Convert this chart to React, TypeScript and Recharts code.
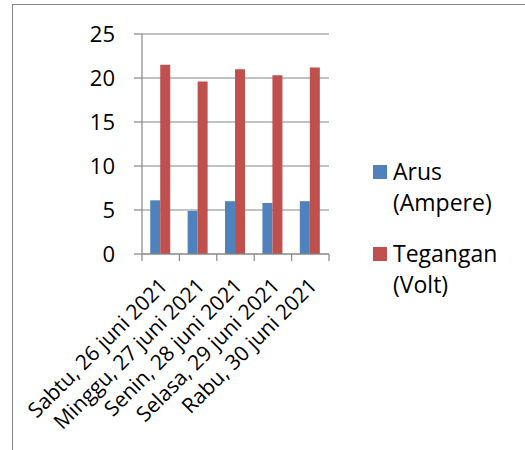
import React from "react";
import { BarChart, Bar, XAxis, YAxis, CartesianGrid, Legend } from "recharts";

const days = [
  "Sabtu, 26 juni 2021",
  "Minggu, 27 juni 2021",
  "Senin, 28 juni 2021",
  "Selasa, 29 juni 2021",
  "Rabu, 30 juni 2021",
];
const arus = [6.1, 4.9, 6.0, 5.8, 6.0];
const tegangan = [21.5, 19.6, 21.0, 20.3, 21.2];
const yTicks = [0, 5, 10, 15, 20, 25];
const seriesNames = ["Arus (Ampere)", "Tegangan (Volt)"];
const seriesColors = ["#4F81BD", "#C0504D"];

const data = days.map((d, i) => ({ day: d, arus: arus[i], tegangan: tegangan[i] }));

const FONT = "'Open Sans', sans-serif";
const GRID = "#878787";
const CHART_W = 525;
const CHART_H = 450;
const MARGIN = { top: 34, right: 196, bottom: 0, left: 0 };
const Y_W = 142;
const X_H = 196;
const PLOT_W = CHART_W - MARGIN.left - MARGIN.right - Y_W;

const CategoryTick = (props: any) => {
  const { x, y, payload, index } = props;
  const step = PLOT_W / days.length;
  const ax = x + 8;
  const ay = y + 33;
  return (
    <g>
      <line x1={x - step / 2} y1={y} x2={x - step / 2} y2={y + 7} stroke={GRID} strokeWidth={1.2} />
      {index === days.length - 1 && (
        <line x1={x + step / 2} y1={y} x2={x + step / 2} y2={y + 7} stroke={GRID} strokeWidth={1.2} />
      )}
      <text
        x={ax}
        y={ay}
        transform={`rotate(-45 ${ax} ${ay})`}
        textAnchor="end"
        fontFamily={FONT}
        fontSize={21}
        fill="#000"
      >
        {payload.value}
      </text>
    </g>
  );
};

const renderLegend = () => (
  <div style={{ fontFamily: FONT, fontSize: 23, lineHeight: "31px", color: "#000", width: 150 }}>
    {seriesNames.map((n, i) => (
      <div key={n} style={{ position: "relative", marginBottom: 19.5 }}>
        <div
          style={{
            position: "absolute",
            left: 0,
            top: 9,
            width: 14,
            height: 14,
            background: seriesColors[i],
          }}
        />
        <div style={{ marginLeft: 20, width: 125 }}>{n}</div>
      </div>
    ))}
  </div>
);

export default function App() {
  return (
    <div style={{ position: "absolute", left: 0, top: 0, width: CHART_W, height: CHART_H, background: "#fff" }}>
      <BarChart width={CHART_W} height={CHART_H} data={data} margin={MARGIN} barCategoryGap="22%" barGap={0}>
        <CartesianGrid vertical={false} stroke={GRID} strokeWidth={1.2} />
        <XAxis
          dataKey="day"
          height={X_H}
          interval={0}
          tickSize={0}
          tickMargin={0}
          tickLine={false}
          axisLine={{ stroke: GRID, strokeWidth: 1.2 }}
          tick={(p: any) => <CategoryTick {...p} />}
        />
        <YAxis
          width={Y_W}
          domain={[0, 25]}
          ticks={yTicks}
          interval={0}
          tickSize={8}
          tickMargin={19}
          axisLine={{ stroke: GRID, strokeWidth: 1.2 }}
          tickLine={{ stroke: GRID, strokeWidth: 1.2 }}
          tick={{ fontFamily: FONT, fontSize: 22, fill: "#000" }}
        />
        <Legend
          layout="horizontal"
          verticalAlign="middle"
          align="center"
          content={renderLegend}
          wrapperStyle={{ left: 373, top: 156, width: 150 }}
        />
        <Bar dataKey="arus" name={seriesNames[0]} fill={seriesColors[0]} isAnimationActive={false} />
        <Bar dataKey="tegangan" name={seriesNames[1]} fill={seriesColors[1]} isAnimationActive={false} />
      </BarChart>
      <div style={{ position: "absolute", left: 12, top: 4, width: 1, height: CHART_H - 4, background: GRID }} />
      <div style={{ position: "absolute", left: 12, top: 4, width: CHART_W - 12, height: 1, background: GRID }} />
    </div>
  );
}
